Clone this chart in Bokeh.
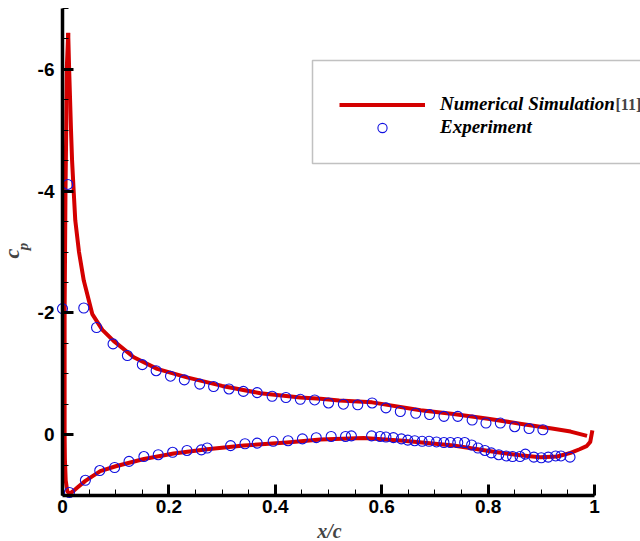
import numpy as np
from bokeh.plotting import figure
from bokeh.models import (Range1d, FixedTicker, Label, BoxAnnotation, Legend, LegendItem)
from bokeh.embed import file_html
from bokeh.resources import INLINE

# ---- data ----
# Numerical simulation, suction side (leading-edge peak -> trailing edge)
x_num_upper = [0.0107, 0.0125, 0.016, 0.018, 0.021, 0.024, 0.031, 0.040, 0.056, 0.075,
               0.096, 0.134, 0.178, 0.234, 0.30, 0.372, 0.447, 0.485, 0.52, 0.582,
               0.673, 0.735, 0.80, 0.86, 0.92, 0.955, 0.986]
cp_num_upper = [-6.6, -6.0, -5.0, -4.5, -4.0, -3.52, -3.0, -2.53, -1.98, -1.72,
                -1.54, -1.27, -1.08, -0.94, -0.80, -0.68, -0.61, -0.59, -0.56, -0.53,
                -0.40, -0.34, -0.26, -0.18, -0.10, -0.05, 0.02]
# Numerical simulation, pressure side (leading-edge peak -> stagnation -> trailing edge)
x_num_lower = [0.0107, 0.008, 0.007, 0.0056, 0.004, 0.004, 0.0045, 0.006, 0.009, 0.013,
               0.02, 0.028, 0.043, 0.071, 0.10, 0.153, 0.209, 0.272, 0.341, 0.422,
               0.485, 0.566, 0.641, 0.735, 0.817, 0.86, 0.898, 0.93, 0.955, 0.972,
               0.985, 0.992, 0.996]
cp_num_lower = [-6.6, -6.0, -5.0, -4.0, -2.0, 0.0, 0.4, 0.75, 0.93, 0.97,
                0.93, 0.87, 0.76, 0.60, 0.52, 0.40, 0.31, 0.24, 0.18, 0.13,
                0.08, 0.055, 0.10, 0.18, 0.29, 0.34, 0.37, 0.36, 0.30, 0.24,
                0.19, 0.12, -0.07]
# Experiment, suction side
x_exp_upper = [0.0, 0.01, 0.04, 0.064, 0.095, 0.122, 0.15, 0.176, 0.203, 0.229,
               0.258, 0.284, 0.313, 0.34, 0.366, 0.394, 0.42, 0.447, 0.474, 0.5,
               0.528, 0.555, 0.582, 0.608, 0.635, 0.664, 0.69, 0.717, 0.743, 0.77,
               0.796, 0.823, 0.85, 0.877, 0.903]
cp_exp_upper = [-2.07, -4.11, -2.08, -1.76, -1.49, -1.30, -1.15, -1.05, -0.96, -0.90,
                -0.83, -0.79, -0.75, -0.71, -0.69, -0.63, -0.61, -0.58, -0.57, -0.52,
                -0.50, -0.49, -0.52, -0.44, -0.38, -0.35, -0.33, -0.30, -0.30, -0.24,
                -0.19, -0.19, -0.13, -0.10, -0.08]
# Experiment, pressure side
x_exp_lower = [0.013, 0.043, 0.07, 0.098, 0.125, 0.153, 0.18, 0.207, 0.234, 0.261,
               0.272, 0.316, 0.343, 0.366, 0.396, 0.424, 0.451, 0.477, 0.505, 0.532,
               0.543, 0.581, 0.597, 0.608, 0.622, 0.637, 0.649, 0.662, 0.676, 0.689,
               0.703, 0.717, 0.729, 0.743, 0.756, 0.769, 0.781, 0.794, 0.806, 0.82,
               0.834, 0.846, 0.86, 0.87, 0.886, 0.9, 0.913, 0.927, 0.937, 0.954]
cp_exp_lower = [0.95, 0.75, 0.59, 0.54, 0.44, 0.36, 0.33, 0.29, 0.26, 0.25,
                0.22, 0.18, 0.15, 0.14, 0.11, 0.10, 0.07, 0.05, 0.03, 0.03,
                0.02, 0.02, 0.03, 0.04, 0.05, 0.07, 0.09, 0.10, 0.11, 0.11,
                0.12, 0.13, 0.13, 0.13, 0.13, 0.17, 0.22, 0.26, 0.30, 0.33,
                0.35, 0.36, 0.36, 0.32, 0.37, 0.38, 0.37, 0.35, 0.35, 0.37]

x_ticks = [0, 0.2, 0.4, 0.6, 0.8, 1.0]
x_tick_labels = ["0", "0.2", "0.4", "0.6", "0.8", "1"]
y_ticks = [-6, -4, -2, 0]
y_tick_labels = ["-6", "-4", "-2", "0"]

RED = "#d40000"
BLUE = "#1010e0"

# Layout: the frame fills the whole canvas; axes are drawn at fixed data locations.
W, H = 640, 541
AX_L, AX_R, AX_T, AX_B = 62, 594, 8, 495      # pixel box of the axes (x 0..1, cp -7..1)
X0, X1, CP_TOP, CP_BOT = 0.0, 1.0, -7.0, 1.0
xs = (X1 - X0) / (AX_R - AX_L)
ys = (CP_BOT - CP_TOP) / (AX_B - AX_T)
x_range = Range1d(X0 - AX_L * xs, X1 + (W - AX_R) * xs)
y_range = Range1d(CP_BOT + (H - AX_B) * ys, CP_TOP - AX_T * ys)

p = figure(width=W, height=H, output_backend="svg", toolbar_location=None,
           x_range=x_range, y_range=y_range,
           min_border=0, min_border_left=0, min_border_right=0,
           min_border_top=0, min_border_bottom=0)
p.outline_line_color = None
p.grid.visible = False
p.background_fill_color = "white"
p.border_fill_color = "white"

r_up = p.line(x_num_upper, cp_num_upper, line_color=RED, line_width=4, line_join="round")
r_lo = p.line(x_num_lower, cp_num_lower, line_color=RED, line_width=4, line_join="round")
r_eu = p.scatter(x_exp_upper, cp_exp_upper, marker="circle", size=10, fill_color=None,
                 line_color=BLUE, line_width=1.1)
r_el = p.scatter(x_exp_lower, cp_exp_lower, marker="circle", size=10, fill_color=None,
                 line_color=BLUE, line_width=1.1)

xa = p.xaxis[0]
ya = p.yaxis[0]
xa.fixed_location = CP_BOT
ya.fixed_location = X0
xa.bounds = (X0, X1)
ya.bounds = (CP_TOP, CP_BOT)
xa.ticker = FixedTicker(ticks=x_ticks, minor_ticks=list(np.round(np.arange(0, 1.0001, 0.05), 3)))
ya.ticker = FixedTicker(ticks=y_ticks, minor_ticks=list(np.arange(-7, 1.0001, 0.5)))
xa.major_label_overrides = {t: l for t, l in zip(x_ticks, x_tick_labels)}
ya.major_label_overrides = {t: l for t, l in zip(y_ticks, y_tick_labels)}
for ax in (xa, ya):
    ax.axis_line_width = 3.5
    ax.axis_line_color = "black"
    ax.major_tick_in = 11
    ax.major_tick_out = 0
    ax.major_tick_line_width = 3
    ax.minor_tick_in = 6
    ax.minor_tick_out = 0
    ax.minor_tick_line_width = 1
    ax.major_label_text_font = "Liberation Sans"
    ax.major_label_text_font_size = "19px"
    ax.major_label_text_font_style = "bold"
    ax.major_label_text_color = "black"
xa.major_label_standoff = 4
ya.major_label_standoff = 8

# axis titles (screen units measured from the canvas' bottom-left corner)
p.add_layout(Label(x=329, y=H - 530, x_units="screen", y_units="screen", text="x/c",
                   text_font="Liberation Serif", text_font_style="bold italic",
                   text_font_size="20px", text_align="center", text_baseline="middle"))
p.add_layout(Label(x=11, y=H - 253, x_units="screen", y_units="screen", text="c",
                   angle=np.pi / 2, text_font="Liberation Serif", text_font_style="bold italic",
                   text_font_size="22px", text_align="center", text_baseline="middle"))
p.add_layout(Label(x=22, y=H - 246, x_units="screen", y_units="screen", text="p",
                   angle=np.pi / 2, text_font="Liberation Serif", text_font_style="bold italic",
                   text_font_size="15px", text_align="center", text_baseline="middle"))

# legend frame
p.add_layout(BoxAnnotation(left=312, right=700, top=H - 60, bottom=H - 163,
                           left_units="screen", right_units="screen",
                           top_units="screen", bottom_units="screen",
                           fill_alpha=0, line_color="#333333", line_width=1.5))

legend = Legend(items=[LegendItem(label="Numerical Simulation", renderers=[r_up]),
                       LegendItem(label="Experiment", renderers=[r_eu])],
                location=(339, H - 138.5), orientation="vertical",
                border_line_color=None, background_fill_alpha=0,
                glyph_width=86, glyph_height=23, label_height=23, label_standoff=15,
                padding=0, spacing=0, margin=0,
                label_text_font="Liberation Serif", label_text_font_style="bold italic",
                label_text_font_size="19px", label_text_color="black")
p.add_layout(legend)
p.add_layout(Label(x=615, y=H - 104, x_units="screen", y_units="screen", text="[11]",
                   text_font="Liberation Serif", text_font_style="bold",
                   text_font_size="16px", text_align="left", text_baseline="middle"))

open("out.html", "w").write(file_html(p, INLINE))
